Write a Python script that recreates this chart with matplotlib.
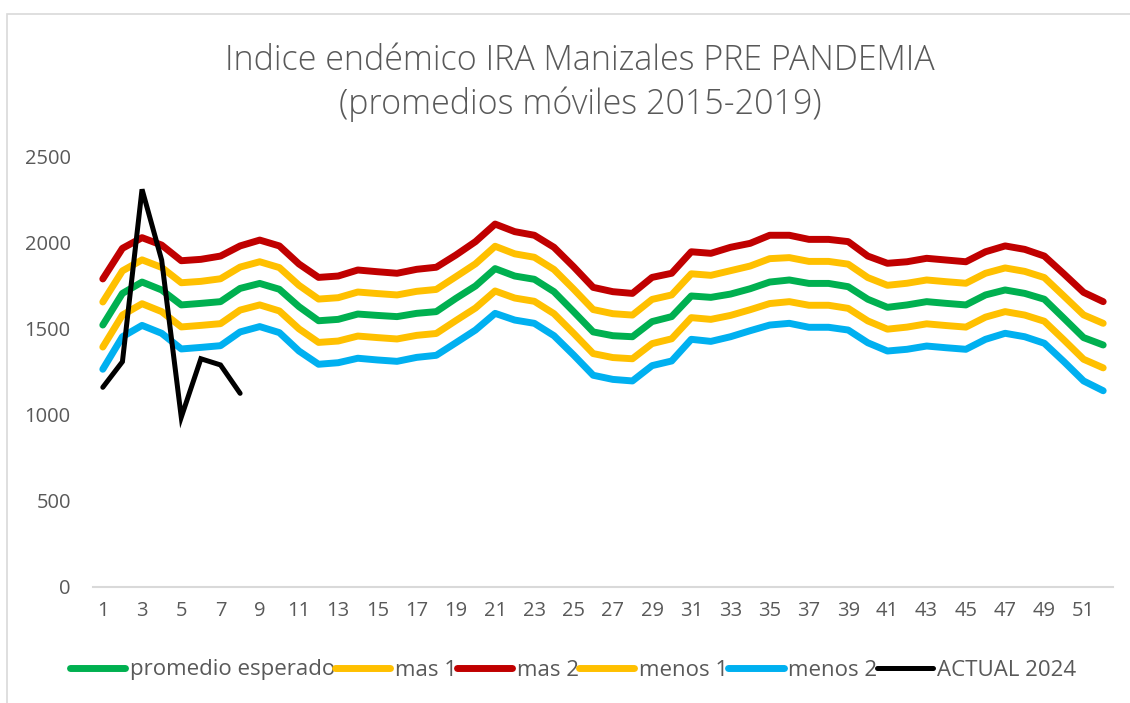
import matplotlib
matplotlib.use("Agg")
import matplotlib.pyplot as plt
from matplotlib.patches import Rectangle

weeks = list(range(1, 53))
promedio = [1523, 1707, 1773, 1727, 1640, 1649, 1659, 1736, 1765, 1731, 1630, 1548, 1556,
            1587, 1579, 1572, 1591, 1601, 1678, 1750, 1851, 1808, 1789, 1717, 1601, 1483,
            1461, 1455, 1543, 1572, 1692, 1684, 1703, 1734, 1773, 1785, 1765, 1765, 1746,
            1673, 1626, 1640, 1659, 1649, 1640, 1698, 1727, 1707, 1673, 1562, 1450, 1407]
mas1 = [1657, 1838, 1902, 1858, 1769, 1777, 1792, 1860, 1891, 1857, 1754, 1674, 1682,
        1715, 1706, 1698, 1719, 1730, 1804, 1879, 1981, 1937, 1917, 1846, 1732, 1613,
        1589, 1581, 1672, 1698, 1821, 1812, 1839, 1866, 1909, 1915, 1893, 1893, 1877,
        1799, 1754, 1766, 1785, 1775, 1766, 1824, 1855, 1835, 1799, 1691, 1582, 1533]
mas2 = [1791, 1969, 2031, 1988, 1897, 1905, 1924, 1983, 2017, 1983, 1878, 1800, 1808,
        1843, 1833, 1824, 1847, 1859, 1930, 2008, 2110, 2066, 2045, 1975, 1862, 1742,
        1717, 1707, 1800, 1824, 1949, 1940, 1975, 1998, 2045, 2045, 2021, 2021, 2008,
        1924, 1882, 1891, 1911, 1901, 1891, 1949, 1983, 1963, 1924, 1820, 1713, 1659]
menos1 = [1395, 1581, 1647, 1601, 1512, 1521, 1531, 1610, 1640, 1605, 1501, 1422, 1430,
          1459, 1450, 1442, 1463, 1474, 1549, 1622, 1721, 1680, 1661, 1589, 1475, 1357,
          1334, 1327, 1415, 1443, 1566, 1556, 1579, 1612, 1648, 1659, 1638, 1638, 1620,
          1547, 1499, 1511, 1530, 1520, 1511, 1569, 1601, 1581, 1545, 1436, 1324, 1274]
menos2 = [1266, 1455, 1521, 1475, 1384, 1393, 1403, 1483, 1514, 1479, 1372, 1295, 1304,
          1330, 1320, 1312, 1335, 1347, 1420, 1494, 1591, 1552, 1533, 1461, 1349, 1231,
          1207, 1198, 1287, 1314, 1440, 1428, 1455, 1490, 1523, 1533, 1510, 1510, 1494,
          1420, 1372, 1382, 1401, 1391, 1382, 1440, 1475, 1455, 1417, 1310, 1198, 1141]
actual_weeks = [1, 2, 3, 4, 5, 6, 7, 8]
actual_2024 = [1161, 1310, 2312, 1901, 987, 1327, 1291, 1126]

y_ticks = [0, 500, 1000, 1500, 2000, 2500]
x_tick_labels = list(range(1, 53, 2))

plt.rcParams['font.family'] = ['Open Sans', 'DejaVu Sans']
TXT = '#595959'

fig = plt.figure(figsize=(11.3, 7.03), dpi=100)
ax = fig.add_axes([93/1130, 1-587/703, (1113-93)/1130, (587-157)/703])

fig.patches.append(Rectangle((7/1130, -0.05), 1.2, 1-14/703+0.05, transform=fig.transFigure,
                             fill=False, edgecolor='#d9d9d9', linewidth=1.2, zorder=-1))

series = [
    ('promedio esperado', promedio, '#00B050'),
    ('mas 1', mas1, '#FFC000'),
    ('mas 2', mas2, '#C00000'),
    ('menos 1', menos1, '#FFC000'),
    ('menos 2', menos2, '#00B0F0'),
]
for name, vals, col in series:
    ax.plot(weeks, vals, color=col, linewidth=5, label=name, solid_capstyle='round', solid_joinstyle='round')
ax.plot(actual_weeks, actual_2024, color='black', linewidth=3.6, label='ACTUAL 2024',
        solid_capstyle='round', solid_joinstyle='miter')

ax.set_xlim(0.5, 52.5)
ax.set_ylim(0, 2500)
ax.set_yticks(y_ticks)
ax.set_xticks(x_tick_labels)
ax.set_xticklabels([str(v) for v in x_tick_labels])
for s in ['top', 'right', 'left']:
    ax.spines[s].set_visible(False)
ax.spines['bottom'].set_color('#d9d9d9')
ax.spines['bottom'].set_linewidth(1.5)
ax.tick_params(axis='both', length=0, labelsize=14.5, labelcolor=TXT)
ax.tick_params(axis='x', pad=10)
ax.tick_params(axis='y', pad=16)

fig.text(580/1130, 1-61/703, 'Indice endémico IRA Manizales PRE PANDEMIA', ha='center', va='center',
         fontsize=24.5, color=TXT, fontweight='light')
fig.text(580/1130, 1-104/703, '(promedios móviles 2015-2019)', ha='center', va='center',
         fontsize=24.5, color=TXT, fontweight='light')

leg = fig.legend(loc='center', bbox_to_anchor=(573/1130, 1-670/703), ncol=6, frameon=False,
                 fontsize=16, handlelength=2.5, handletextpad=0.2, columnspacing=0.0,
                 labelcolor=TXT)

fig.savefig('out.png', dpi=100)
